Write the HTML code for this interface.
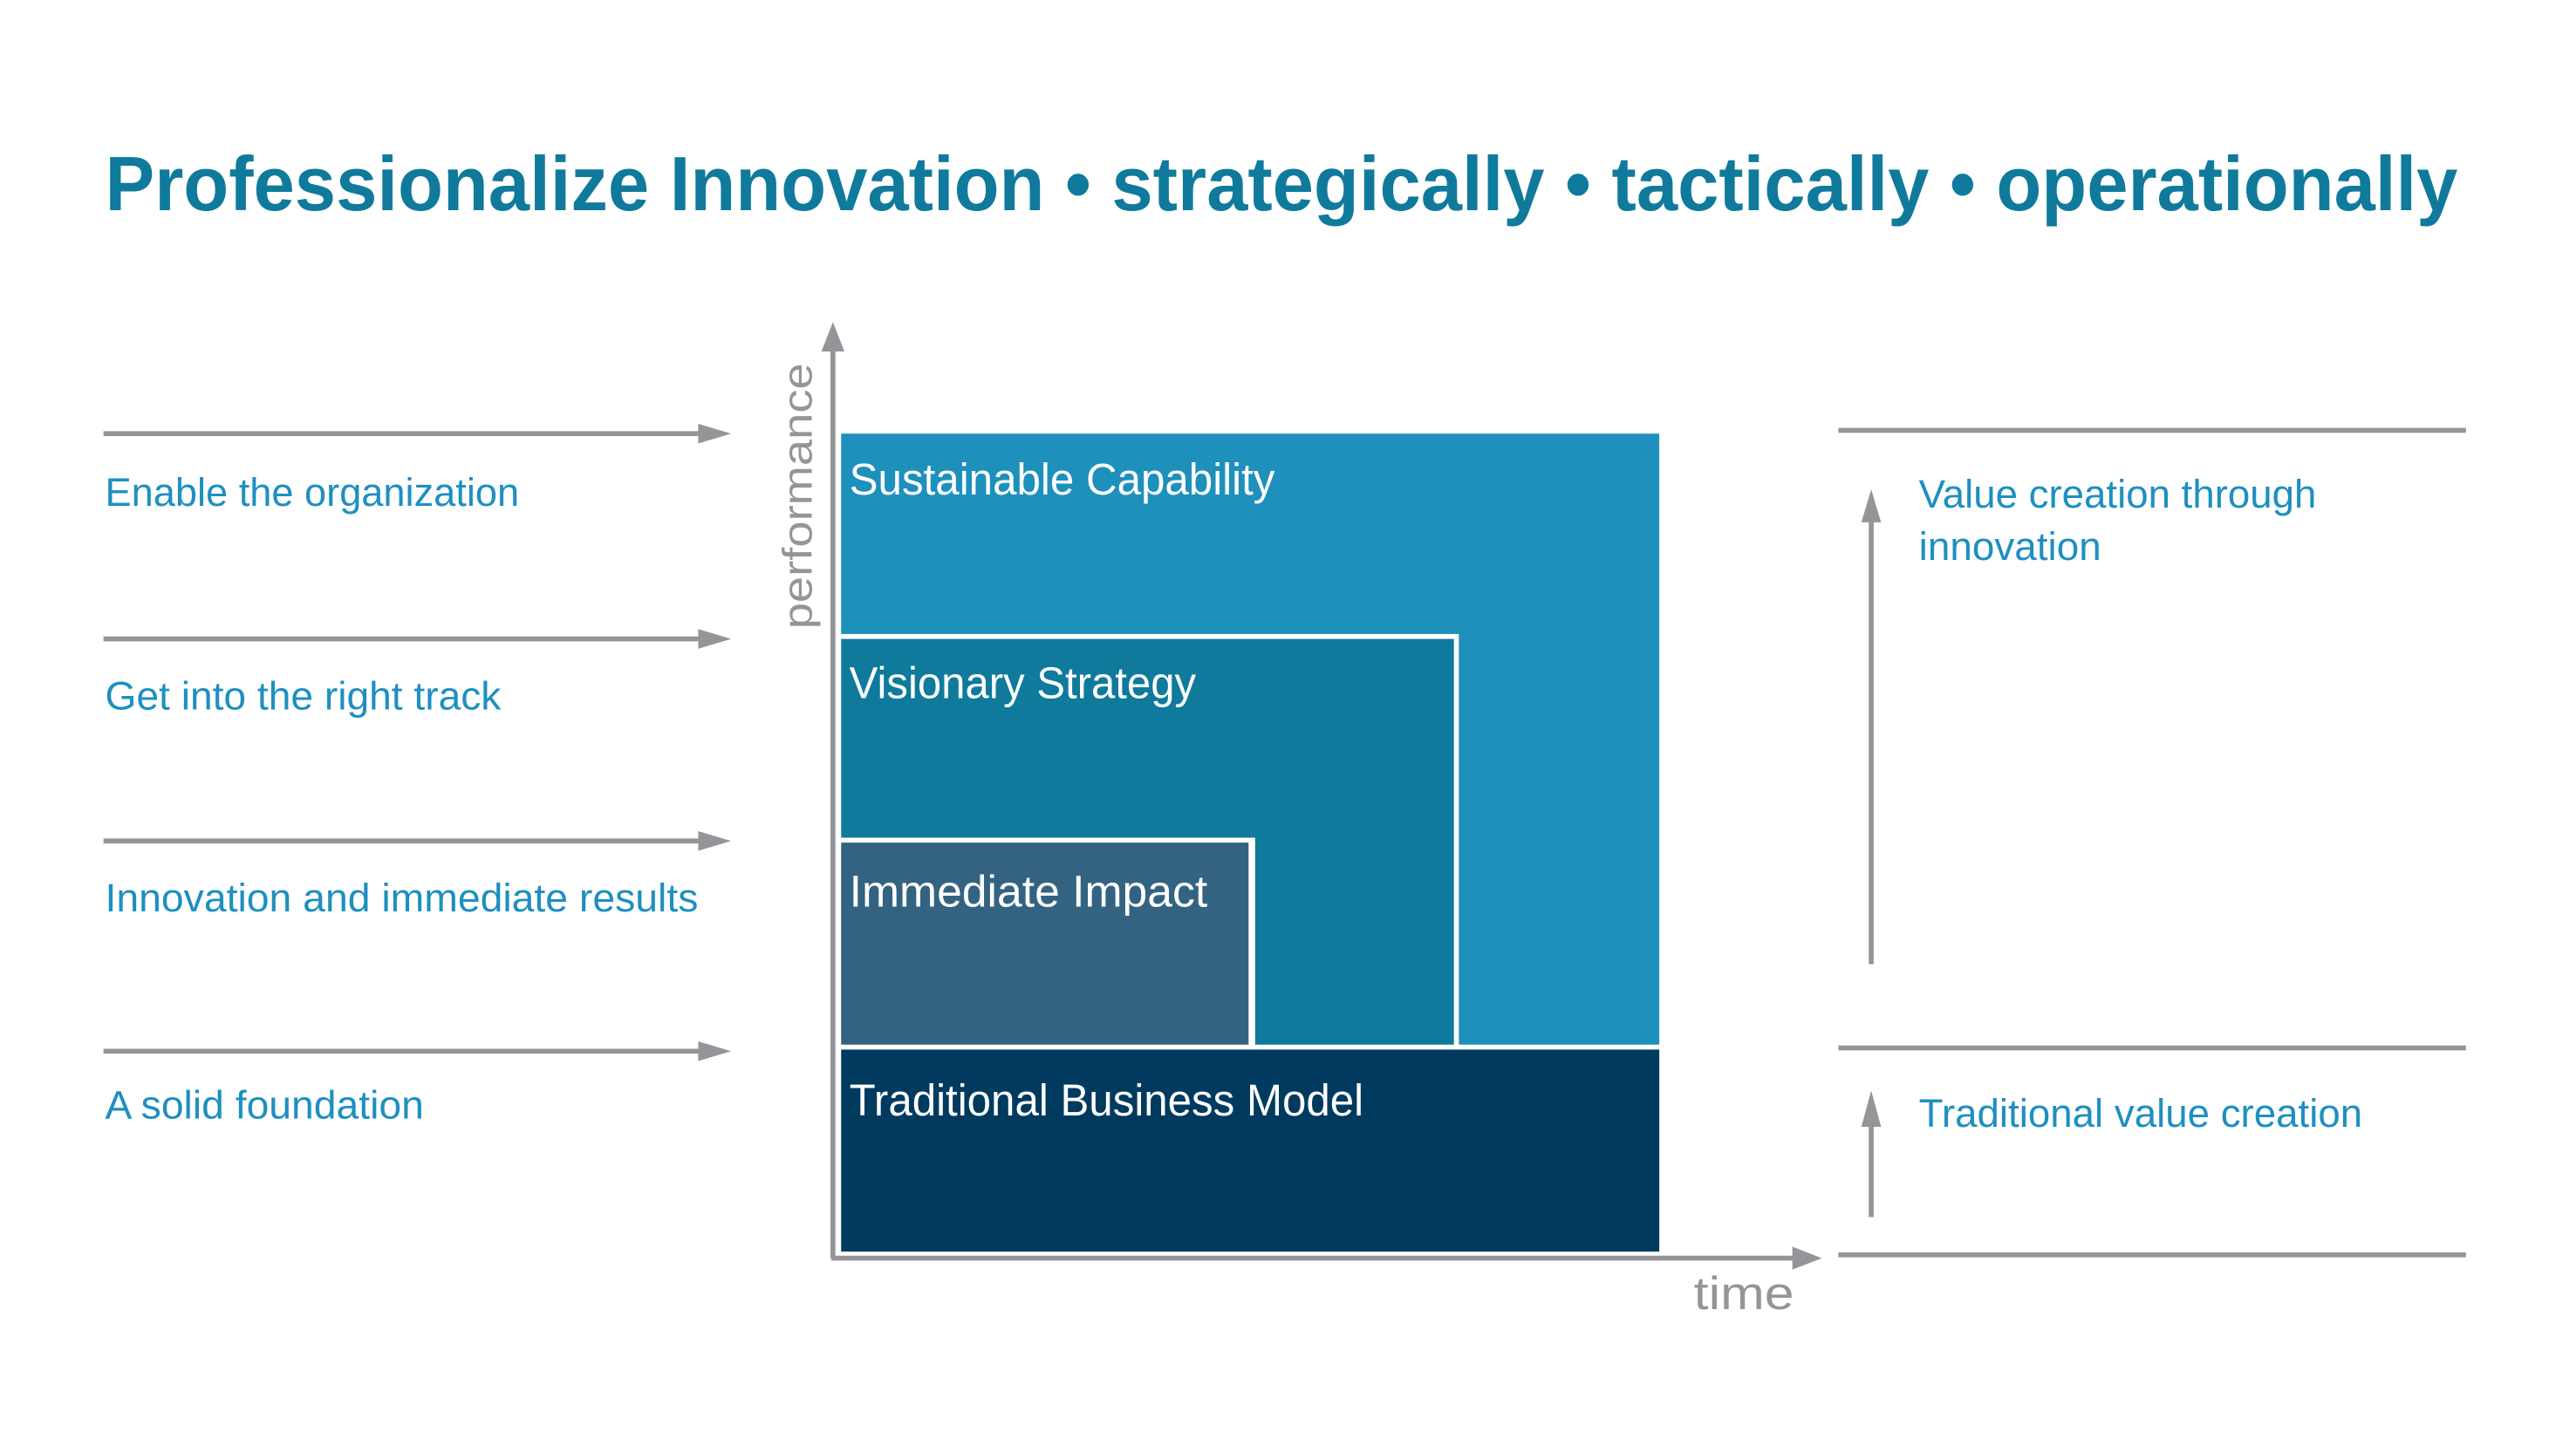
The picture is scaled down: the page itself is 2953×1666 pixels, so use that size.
<!DOCTYPE html>
<html><head><meta charset="utf-8"><style>
html,body{margin:0;padding:0;background:#fff;}
svg{display:block;}
</style></head><body>
<svg width="2953" height="1666" viewBox="0 0 1568 884.6" preserveAspectRatio="xMinYMin meet" xmlns="http://www.w3.org/2000/svg" font-family="Liberation Sans, sans-serif">
<rect width="1568" height="885" fill="#fff"/>
<text x="64" y="128" font-size="47" font-weight="bold" fill="#0f7a9c" textLength="1432" lengthAdjust="spacingAndGlyphs">Professionalize Innovation • strategically • tactically • operationally</text>

<g stroke="#939598" stroke-width="3">
<line x1="63" y1="264" x2="432" y2="264"/>
<line x1="63" y1="389" x2="432" y2="389"/>
<line x1="63" y1="512" x2="432" y2="512"/>
<line x1="63" y1="640" x2="432" y2="640"/>
<line x1="507" y1="766" x2="507" y2="210"/>
<line x1="506" y1="766" x2="1096" y2="766"/>
<line x1="1119" y1="262" x2="1501" y2="262"/>
<line x1="1119" y1="638" x2="1501" y2="638"/>
<line x1="1119" y1="764" x2="1501" y2="764"/>
<line x1="1139" y1="587" x2="1139" y2="312"/>
<line x1="1139" y1="741" x2="1139" y2="680"/>
</g>
<g fill="#939598">
<polygon points="445,264 425,258 425,270"/>
<polygon points="445,389 425,383 425,395"/>
<polygon points="445,512 425,506 425,518"/>
<polygon points="445,640 425,634 425,646"/>
<polygon points="507,196 500,214 514,214"/>
<polygon points="1109,766 1091,759 1091,773"/>
<polygon points="1139,298 1133,318 1145,318"/>
<polygon points="1139,664 1133,686 1145,686"/>
</g>

<g font-size="24" fill="#1e8fc0">
<text x="64" y="308" textLength="252" lengthAdjust="spacingAndGlyphs">Enable the organization</text>
<text x="64" y="432" textLength="241" lengthAdjust="spacingAndGlyphs">Get into the right track</text>
<text x="64" y="555" textLength="361" lengthAdjust="spacingAndGlyphs">Innovation and immediate results</text>
<text x="64" y="681" textLength="194" lengthAdjust="spacingAndGlyphs">A solid foundation</text>
<text x="1168" y="309" textLength="242" lengthAdjust="spacingAndGlyphs">Value creation through</text>
<text x="1168" y="341" textLength="111" lengthAdjust="spacingAndGlyphs">innovation</text>
<text x="1168" y="686" textLength="270" lengthAdjust="spacingAndGlyphs">Traditional value creation</text>
</g>

<text transform="translate(494,383) rotate(-90)" font-size="25" fill="#939598" textLength="162" lengthAdjust="spacingAndGlyphs">performance</text>
<text x="1031" y="797" font-size="28" fill="#939598" textLength="61" lengthAdjust="spacingAndGlyphs">time</text>

<rect x="512" y="264" width="498" height="372" fill="#1e90bc"/>
<rect x="511" y="386" width="377" height="252" fill="#fff"/>
<rect x="512" y="389" width="373" height="247" fill="#0f7a9c"/>
<rect x="511" y="510" width="253" height="128" fill="#fff"/>
<rect x="512" y="513" width="248" height="123" fill="#336381"/>
<rect x="512" y="639" width="498" height="123" fill="#003a5f"/>

<g font-size="27" fill="#fff">
<text x="517" y="301" textLength="259" lengthAdjust="spacingAndGlyphs">Sustainable Capability</text>
<text x="517" y="425" textLength="211" lengthAdjust="spacingAndGlyphs">Visionary Strategy</text>
<text x="517" y="552" textLength="218" lengthAdjust="spacingAndGlyphs">Immediate Impact</text>
<text x="517" y="679" textLength="313" lengthAdjust="spacingAndGlyphs">Traditional Business Model</text>
</g>
</svg>
</body></html>
